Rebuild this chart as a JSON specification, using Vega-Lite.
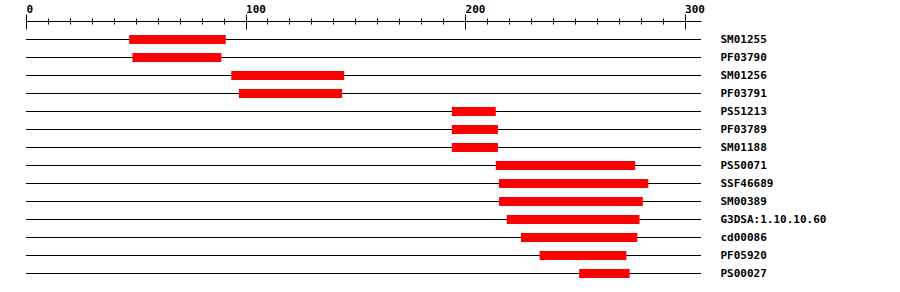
{
  "$schema": "https://vega.github.io/schema/vega-lite/v6.json",
  "width": 675,
  "height": 270,
  "autosize": {"type": "none"},
  "padding": {"left": 26, "top": 21, "right": 199, "bottom": 1},
  "background": "white",
  "config": {
    "view": {"stroke": null},
    "axis": {
      "labelFont": "DejaVu Sans Mono",
      "labelFontWeight": "bold",
      "labelFontSize": 11,
      "labelColor": "black",
      "domainColor": "black",
      "tickColor": "black",
      "grid": false,
      "title": null
    }
  },
  "data": {
    "values": [
      {"name": "SM01255", "start": 47, "end": 91},
      {"name": "PF03790", "start": 48.5, "end": 89},
      {"name": "SM01256", "start": 93.5, "end": 145},
      {"name": "PF03791", "start": 97, "end": 144},
      {"name": "PS51213", "start": 194, "end": 214},
      {"name": "PF03789", "start": 194, "end": 215},
      {"name": "SM01188", "start": 194, "end": 215},
      {"name": "PS50071", "start": 214, "end": 277.5},
      {"name": "SSF46689", "start": 215.5, "end": 283.5},
      {"name": "SM00389", "start": 215.5, "end": 281},
      {"name": "G3DSA:1.10.10.60", "start": 219, "end": 279.5},
      {"name": "cd00086", "start": 225.5, "end": 278.5},
      {"name": "PF05920", "start": 234, "end": 273.5},
      {"name": "PS00027", "start": 252, "end": 275}
    ]
  },
  "layer": [
    {
      "mark": {"type": "rule", "color": "black", "strokeWidth": 1, "yOffset": 0.5},
      "encoding": {
        "y": {
          "field": "name",
          "type": "nominal",
          "sort": null,
          "scale": {"type": "point", "padding": 1},
          "axis": {"orient": "right", "domain": false, "ticks": false, "labelPadding": 19, "labelBaseline": "middle", "labelAlign": "left"}
        },
        "x": {
          "datum": 0,
          "type": "quantitative",
          "scale": {"domain": [0, 307.5], "nice": false, "zero": false},
          "axis": {
            "orient": "top",
            "values": [0,10,20,30,40,50,60,70,80,90,100,110,120,130,140,150,160,170,180,190,200,210,220,230,240,250,260,270,280,290,300],
            "tickSize": {"condition": {"test": "datum.value % 100 === 0", "value": 7}, "value": 3},
            "labelExpr": "datum.value % 100 === 0 ? datum.label : ''",
            "labelAlign": "left",
            "labelFlush": false,
            "labelOverlap": false,
            "labelBaseline": "alphabetic",
            "labelPadding": 1.5,
            "domain": true
          }
        },
        "x2": {"datum": 307.5}
      }
    },
    {
      "mark": {"type": "bar", "color": "#ff0000", "size": 9, "yOffset": 0.5},
      "encoding": {
        "y": {"field": "name", "type": "nominal", "sort": null},
        "x": {
          "field": "start",
          "type": "quantitative",
          "axis": {
            "orient": "top",
            "values": [0,10,20,30,40,50,60,70,80,90,100,110,120,130,140,150,160,170,180,190,200,210,220,230,240,250,260,270,280,290,300],
            "tickSize": {"condition": {"test": "datum.value % 100 === 0", "value": -8}, "value": -3},
            "labels": false,
            "domain": false
          }
        },
        "x2": {"field": "end"}
      }
    }
  ],
  "resolve": {"axis": {"x": "independent"}}
}
